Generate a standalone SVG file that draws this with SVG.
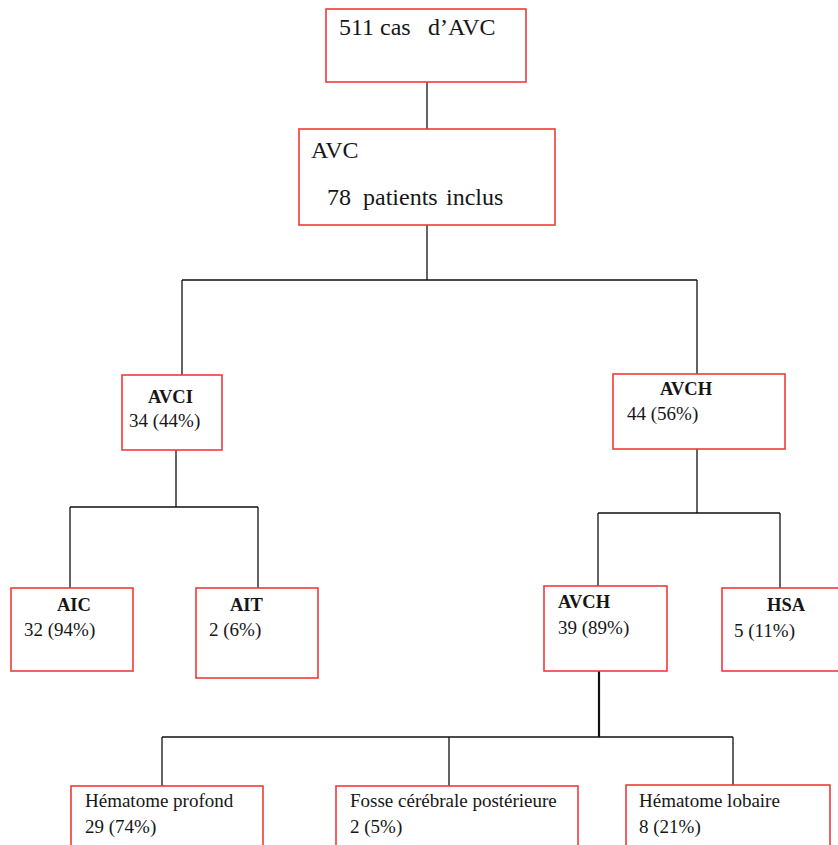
<svg xmlns="http://www.w3.org/2000/svg" width="838" height="845" viewBox="0 0 838 845">
<style>
.box{fill:#fff;stroke:#f03a3a;stroke-width:1.6}
.ln{fill:none;stroke:#111;stroke-width:1.3}
text{font-family:"Liberation Serif","Times New Roman",serif;fill:#161616}
.big{font-size:24px}
.t{font-size:19px}
.h{font-size:18.5px;font-weight:bold}
</style>
<rect width="838" height="845" fill="#fff"/>
<g id="connectors">
<line x1="427" y1="82" x2="427" y2="129" stroke="#666" stroke-width="2"/>
<path class="ln" d="M427 225V280M182 280H697M182 280V375M697 280V374"/>
<path class="ln" d="M176 450V507M70 507H258M70 507V588M258 507V588"/>
<path class="ln" d="M697 449V513M598 513H780M598 513V586M780 513V588"/>
<path class="ln" d="M162 737H733M162 737V786M449 737V786M733 737V785"/>
<line x1="599" y1="671" x2="599" y2="737" stroke="#111" stroke-width="2.2"/>
</g>
<g id="n511">
<rect class="box" x="326" y="9" width="200" height="73"/>
<text class="big" y="35"><tspan x="339">511</tspan><tspan x="380">cas</tspan><tspan x="428">d’AVC</tspan></text>
</g>
<g id="nAVC">
<rect class="box" x="299" y="129" width="256" height="96"/>
<text class="big" x="311" y="158">AVC</text>
<text class="big" y="205"><tspan x="327">78</tspan><tspan x="363">patients</tspan><tspan x="446">inclus</tspan></text>
</g>
<g id="nAVCI">
<rect class="box" x="122" y="375" width="100" height="75"/>
<text class="h" x="148" y="403">AVCI</text>
<text class="t" x="129" y="427">34 (44%)</text>
</g>
<g id="nAVCH">
<rect class="box" x="613" y="374" width="172" height="75"/>
<text class="h" x="660" y="395">AVCH</text>
<text class="t" x="627" y="420">44 (56%)</text>
</g>
<g id="nAIC">
<rect class="box" x="11" y="588" width="122" height="83"/>
<text class="h" x="57" y="611">AIC</text>
<text class="t" x="24" y="636">32 (94%)</text>
</g>
<g id="nAIT">
<rect class="box" x="196" y="588" width="122" height="90"/>
<text class="h" x="230" y="611">AIT</text>
<text class="t" x="209" y="636">2 (6%)</text>
</g>
<g id="nAVCH2">
<rect class="box" x="544" y="586" width="123" height="85"/>
<text class="h" x="558" y="608">AVCH</text>
<text class="t" x="558" y="634">39 (89%)</text>
</g>
<g id="nHSA">
<rect class="box" x="722" y="588" width="120" height="83"/>
<text class="h" x="767" y="611">HSA</text>
<text class="t" x="734" y="637">5 (11%)</text>
</g>
<g id="nProfond">
<rect class="box" x="71" y="786" width="192" height="70"/>
<text class="t" x="85" y="807">Hématome profond</text>
<text class="t" x="85" y="833">29 (74%)</text>
</g>
<g id="nFosse">
<rect class="box" x="336" y="786" width="242" height="70"/>
<text class="t" x="350" y="807">Fosse cérébrale postérieure</text>
<text class="t" x="350" y="833">2 (5%)</text>
</g>
<g id="nLobaire">
<rect class="box" x="626" y="785" width="204" height="70"/>
<text class="t" x="639" y="807">Hématome lobaire</text>
<text class="t" x="639" y="833">8 (21%)</text>
</g>
</svg>
